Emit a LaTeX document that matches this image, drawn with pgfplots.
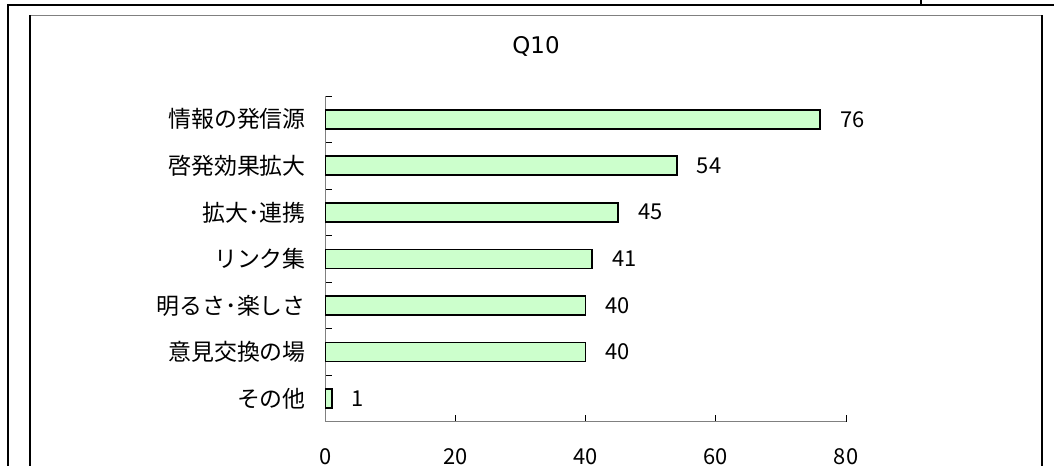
\documentclass[border=0pt]{standalone}
\usepackage{fontspec}
\setmainfont{Noto Sans CJK JP}
\newfontfamily\titlefont{DejaVu Sans}
\usepackage{pgfplots}
\pgfplotsset{compat=1.18}
\definecolor{barfill}{HTML}{CCFFCC}
\definecolor{axisgray}{HTML}{808080}

\begin{document}
\begin{tikzpicture}
\path[use as bounding box] (0,0) rectangle (1054bp,-466bp);
% table cell borders around the chart
\draw[line width=2.2bp] (7bp,-5bp) -- (1054bp,-5bp);
\draw[line width=2.2bp] (8bp,-4bp) -- (8bp,-466bp);
\draw[line width=1.3bp] (921bp,0bp) -- (921bp,-5bp);
% chart area
\draw[line width=1.2bp, axisgray] (30bp,-15.5bp) -- (1042bp,-15.5bp);
\draw[line width=1.4bp] (30bp,-15bp) -- (30bp,-466bp);
\draw[line width=1.4bp] (1042bp,-15bp) -- (1042bp,-466bp);
\node[font=\titlefont\fontsize{23}{26}\selectfont] at (536bp,-46bp) {Q10};

\begin{axis}[
    at={(325.3bp,-421.7bp)}, anchor=south west,
    scale only axis,
    width=520.7bp, height=325.7bp,
    xbar, bar width=19bp,
    xmin=0, xmax=80, ymin=0.5, ymax=7.5,
    clip=false,
    axis x line*=bottom, axis y line*=left,
    axis line style={axisgray, line width=1.2bp},
    xtick={0,20,40,60,80},
    ytick={1,...,7},
    yticklabels={その他,意見交換の場,明るさ･楽しさ,リンク集,拡大･連携,啓発効果拡大,情報の発信源},
    minor ytick={0.5,1.5,...,7.5},
    major y tick style={draw=none},
    tick style={black, line width=1bp},
    major tick length=7bp, minor tick length=7bp,
    tick align=inside,
    /pgf/number format/assume math mode=true,
    xticklabel style={font=\fontsize{22}{26}\selectfont, anchor=base, yshift=-43bp},
    yticklabel style={font=\fontsize{23}{27}\selectfont, anchor=east, xshift=-16bp},
    point meta=x,
    nodes near coords,
    nodes near coords style={font=\fontsize{22}{26}\selectfont, anchor=west, xshift=16bp},
]
\addplot[fill=barfill, draw=black, line width=1.6bp]
    coordinates {(76,7) (54,6) (45,5) (41,4) (40,3) (40,2) (1,1)};
\end{axis}
\end{tikzpicture}
\end{document}
